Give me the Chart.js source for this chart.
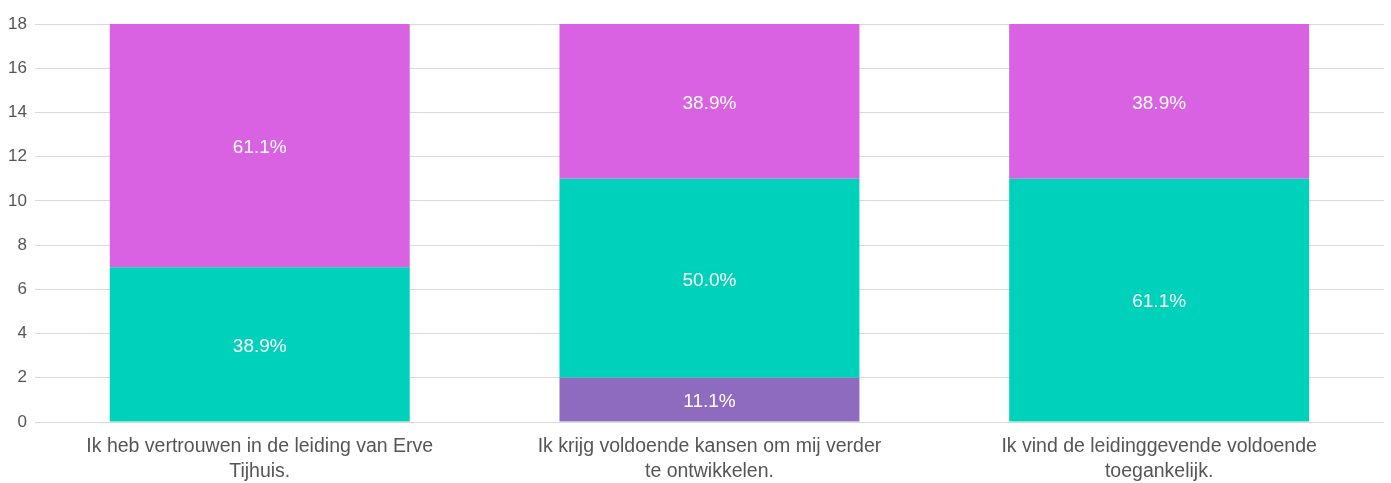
<!DOCTYPE html>
<html lang="nl">
<head>
    <meta charset="UTF-8">
    <script src="https://cdn.jsdelivr.net/npm/chart.js@4.4.0/dist/chart.umd.min.js"></script>
    <title>stacked</title>
    <style>
        html, body { margin: 0; padding: 0; background: #fff; }
        #wrap { width: 1391px; height: 483px; }
    </style>
</head>
<body>
    <div id="wrap"><canvas id="barChart"></canvas></div>
    <script>
        const categories = [
            ['Ik heb vertrouwen in de leiding van Erve', 'Tijhuis.'],
            ['Ik krijg voldoende kansen om mij verder', 'te ontwikkelen.'],
            ['Ik vind de leidinggevende voldoende', 'toegankelijk.']
        ];
        const purpleValues = [0, 2, 0];
        const tealValues = [7, 9, 11];
        const magentaValues = [11, 7, 7];
        const yTicks = [0, 2, 4, 6, 8, 10, 12, 14, 16, 18];

        const fontFamily = '"Liberation Sans", Arial, sans-serif';

        // percentage inside each segment
        const segmentLabels = {
            id: 'segmentLabels',
            afterDatasetsDraw(chart) {
                const ctx = chart.ctx;
                ctx.save();
                ctx.fillStyle = '#ffffff';
                ctx.font = '19px ' + fontFamily;
                ctx.textAlign = 'center';
                ctx.textBaseline = 'middle';
                chart.data.datasets.forEach((ds, i) => {
                    const meta = chart.getDatasetMeta(i);
                    meta.data.forEach((bar, j) => {
                        const v = ds.data[j];
                        if (!v) return;
                        let total = 0;
                        chart.data.datasets.forEach(d => total += d.data[j]);
                        const pct = (v / total * 100).toFixed(1) + '%';
                        ctx.fillText(pct, bar.x, (bar.y + bar.base) / 2 + 2);
                    });
                });
                ctx.restore();
            }
        };

        new Chart(document.getElementById('barChart'), {
            type: 'bar',
            data: {
                labels: categories,
                datasets: [
                    { data: purpleValues, backgroundColor: '#8E6BBF' },
                    { data: tealValues, backgroundColor: '#00D1BB' },
                    { data: magentaValues, backgroundColor: '#D962E3' }
                ]
            },
            options: {
                responsive: true,
                maintainAspectRatio: false,
                animation: false,
                layout: { padding: { top: 24, right: 7, left: 0, bottom: 0 } },
                datasets: { bar: { barPercentage: 0.667, categoryPercentage: 1 } },
                plugins: { legend: { display: false }, tooltip: { enabled: false } },
                scales: {
                    x: {
                        stacked: true,
                        afterFit(axis) { axis.height = 61; },
                        grid: { display: false },
                        border: { display: false },
                        ticks: {
                            color: '#555',
                            font: { family: fontFamily, size: 19.5, lineHeight: 1.24 },
                            maxRotation: 0,
                            padding: 5
                        }
                    },
                    y: {
                        stacked: true,
                        min: 0,
                        max: 18,
                        afterBuildTicks(axis) { axis.ticks = yTicks.map(v => ({ value: v })); },
                        grid: { color: '#d9d9d9', drawTicks: false },
                        border: { display: false },
                        ticks: {
                            color: '#555',
                            font: { family: fontFamily, size: 17 },
                            padding: 8
                        }
                    }
                }
            },
            plugins: [segmentLabels]
        });
    </script>
</body>
</html>
